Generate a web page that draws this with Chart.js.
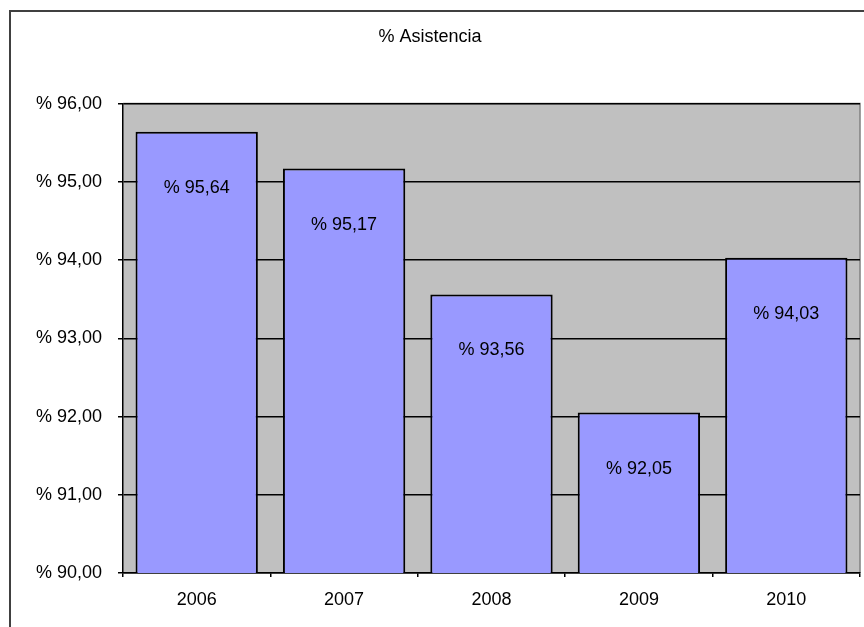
<!DOCTYPE html>
<html>
<head>
<meta charset="utf-8">
<script src="https://cdn.jsdelivr.net/npm/chart.js@4/dist/chart.umd.min.js"></script>
<style>
  html, body { margin: 0; padding: 0; background: #fff; }
  #wrap { width: 864px; height: 627px; }
</style>
</head>
<body>
<div id="wrap"><canvas id="chart" width="864" height="627"></canvas></div>
<script>
// --- data ---
const years = ['2006', '2007', '2008', '2009', '2010'];
const asistencia = [95.64, 95.17, 93.56, 92.05, 94.03];
const yTicks = [90, 91, 92, 93, 94, 95, 96];

const FONT = "'Liberation Sans', Arial, sans-serif";

function pct(v) {
    return '% ' + v.toFixed(2).replace('.', ',');
}

// outer frame (only top + left visible) and gray plot background
const framePlugin = {
    id: 'frame',
    beforeDraw(chart) {
        const c = chart.ctx;
        const a = chart.chartArea;
        c.save();
        c.fillStyle = '#c0c0c0';
        c.fillRect(a.left, a.top, a.right - a.left, a.bottom - a.top);
        c.strokeStyle = '#808080';
        c.lineWidth = 1.5;
        c.beginPath();
        c.moveTo(a.left, a.top);
        c.lineTo(a.right, a.top);
        c.lineTo(a.right, a.bottom);
        c.stroke();
        c.strokeStyle = '#404040';
        c.lineWidth = 2;
        c.beginPath();
        c.moveTo(10, chart.height);
        c.lineTo(10, 11);
        c.lineTo(chart.width, 11);
        c.stroke();
        c.restore();
    }
};

// value labels inside the bars
const labelPlugin = {
    id: 'barLabels',
    afterDatasetsDraw(chart) {
        const c = chart.ctx;
        const meta = chart.getDatasetMeta(0);
        c.save();
        c.font = '18px ' + FONT;
        c.fillStyle = '#000';
        c.textAlign = 'center';
        c.textBaseline = 'middle';
        meta.data.forEach((bar, i) => {
            c.fillText(pct(asistencia[i]), bar.x, bar.y + 56);
        });
        c.restore();
    }
};

new Chart(document.getElementById('chart'), {
    type: 'bar',
    data: {
        labels: years,
        datasets: [{
            label: '% Asistencia',
            data: asistencia,
            backgroundColor: '#9999ff',
            borderColor: '#000',
            borderWidth: 2,
            borderSkipped: false,
            categoryPercentage: 1,
            barPercentage: 0.83
        }]
    },
    options: {
        responsive: false,
        animation: false,
        layout: { padding: { left: 0, right: 4, top: 0, bottom: 0 } },
        plugins: {
            legend: { display: false },
            tooltip: { enabled: false },
            title: {
                display: true,
                text: '% Asistencia',
                color: '#000',
                font: { family: FONT, size: 18, weight: 'normal' },
                padding: { top: 26, bottom: 56 }
            }
        },
        scales: {
            x: {
                offset: true,
                grid: {
                    offset: true,
                    drawOnChartArea: false,
                    drawTicks: true,
                    tickLength: 4,
                    color: '#000',
                    lineWidth: 1.5
                },
                border: { color: '#000', width: 1.5 },
                ticks: {
                    color: '#000',
                    padding: 12,
                    font: { family: FONT, size: 18 }
                },
                afterFit(scale) { scale.height = 54; }
            },
            y: {
                min: yTicks[0],
                max: yTicks[yTicks.length - 1],
                afterBuildTicks(scale) {
                    scale.ticks = yTicks.map(v => ({ value: v }));
                },
                grid: {
                    color: '#000',
                    lineWidth: 1.5,
                    drawTicks: true,
                    tickLength: 5
                },
                border: { color: '#000', width: 1.5 },
                ticks: {
                    color: '#000',
                    padding: 16,
                    font: { family: FONT, size: 18 },
                    callback: v => pct(v)
                },
                afterFit(scale) { scale.width = 123; }
            }
        }
    },
    plugins: [framePlugin, labelPlugin]
});
</script>
</body>
</html>
